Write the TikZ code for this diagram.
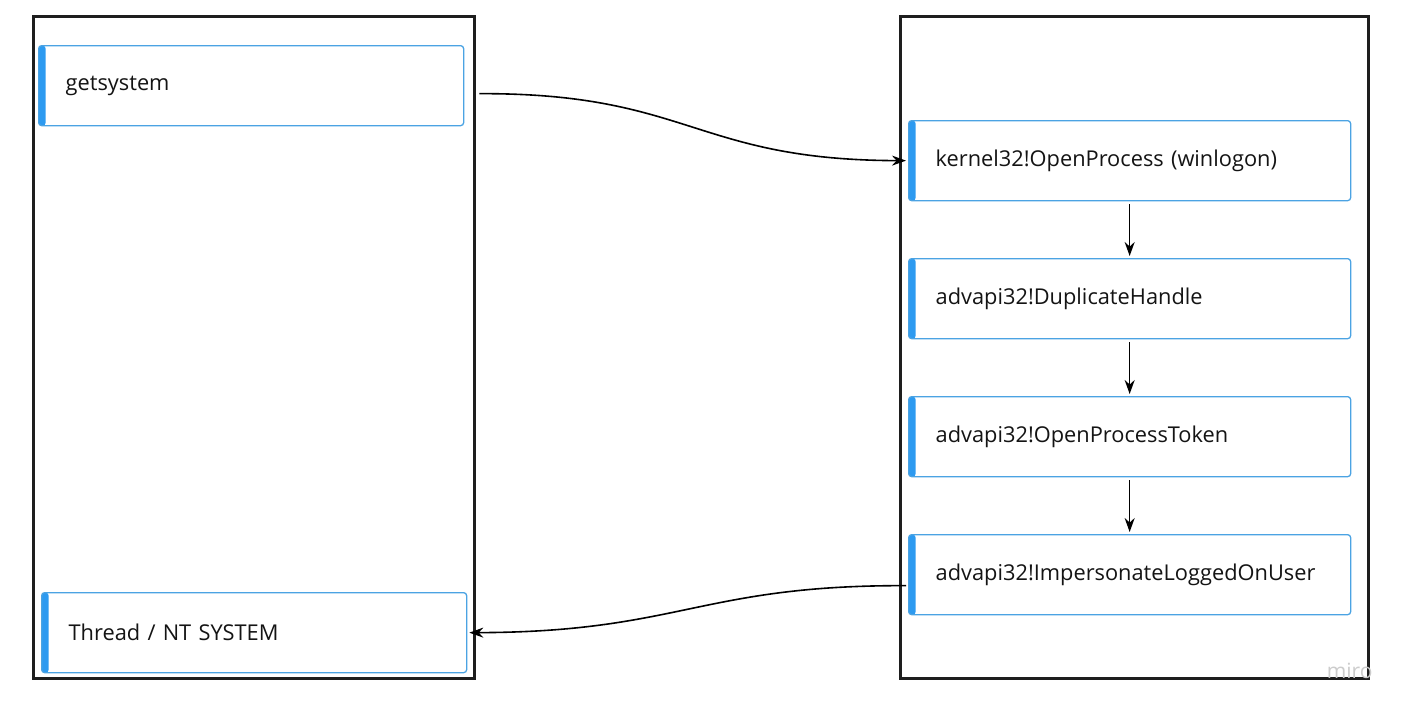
\documentclass[tikz,border=0pt]{standalone}
\usepackage{fontspec}
\setmainfont{Open Sans}
\usetikzlibrary{arrows.meta}
\definecolor{accent}{HTML}{2D9AF0}
\definecolor{cardline}{HTML}{4BA3E3}
\definecolor{frame}{HTML}{1E1E1E}
\tikzset{
  container/.style={draw=frame, line width=3pt},
  card/.style={draw=cardline, line width=1.3pt, rounded corners=3pt, fill=white,
    minimum width=#1, minimum height=80pt, text width=#1-54pt, inner xsep=27pt, inner ysep=0pt,
    align=left, font=\fontsize{21.8}{26}\selectfont, text=black!92, anchor=north west,
    path picture={\fill[accent] (path picture bounding box.north west) rectangle ([xshift=7pt]path picture bounding box.south west);}},
  flow/.style={-{Stealth[length=14pt,width=10pt]}, line width=1.6pt, black},
}
\begin{document}
\begin{tikzpicture}[x=1pt,y=-1pt]
\useasboundingbox (0,0) rectangle (1407,710);
\fill[white] (0,0) rectangle (1407,710);
% containers
\draw[container] (33,16) rectangle (474,678);
\draw[container] (900,16) rectangle (1368,678);
% cards
\node[card=425pt] (gs) at (38,45) {getsystem};
\node[card=425pt] (th) at (41,592) {Thread / NT SYSTEM};
\node[card=442pt] (op) at (908,120) {kernel32!OpenProcess (winlogon)};
\node[card=442pt] (dh) at (908,258) {advapi32!DuplicateHandle};
\node[card=442pt] (ot) at (908,396) {advapi32!OpenProcessToken};
\node[card=442pt] (im) at (908,534) {advapi32!ImpersonateLoggedOnUser};
% connectors
\coordinate (gsout) at ([xshift=15pt,yshift=-8pt]gs.east);
\draw[flow] (gsout) .. controls (690,93) and (694,160) .. ([xshift=-2pt]op.west);
\draw[flow] ([yshift=-3pt]op.south) -- ([yshift=2pt]dh.north);
\draw[flow] ([yshift=-3pt]dh.south) -- ([yshift=2pt]ot.north);
\draw[flow] ([yshift=-3pt]ot.south) -- ([yshift=2pt]im.north);
\coordinate (imout) at ([xshift=-2pt,yshift=-11pt]im.west);
\draw[flow] (imout) .. controls (700,585) and (680,632) .. ([xshift=2pt]th.east);
% watermark
\node[text=black!20, font=\fontsize{21}{24}\selectfont, anchor=base east] (wm) at (1376,678) {miro};
\end{tikzpicture}
\end{document}
